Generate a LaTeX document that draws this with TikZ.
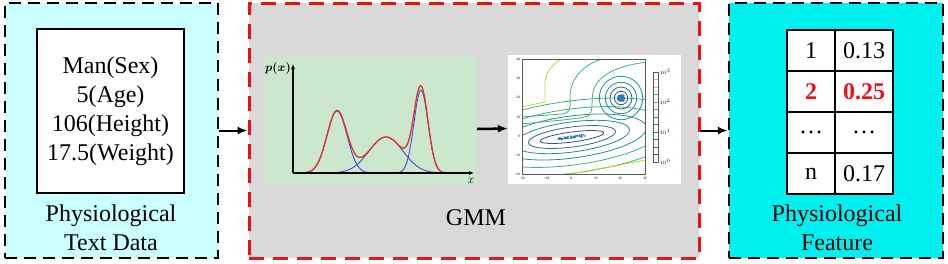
\documentclass[tikz,border=0pt]{standalone}
\usepackage{fontspec}
\usepackage{bm}
\setmainfont{Liberation Serif}
\usetikzlibrary{arrows.meta}
\definecolor{txtfill}{HTML}{CCFFFF}
\definecolor{gmmfill}{HTML}{D9D9D9}
\definecolor{gmmred}{HTML}{EE1111}
\definecolor{featfill}{HTML}{00F0F0}
\definecolor{pdffill}{HTML}{CBE7CC}
\definecolor{mixred}{HTML}{E03030}
\definecolor{compblue}{HTML}{3A3AE0}
\definecolor{vdark}{HTML}{3E4A89}
\definecolor{vblue}{HTML}{31688E}
\definecolor{vteal}{HTML}{21908C}
\definecolor{vgreen}{HTML}{3BB47A}
\definecolor{vlight}{HTML}{B5DE2B}
\definecolor{dotblue}{HTML}{1F77B4}
\definecolor{hibold}{HTML}{E8141A}

\begin{document}
\begin{tikzpicture}[x=1pt,y=-1pt,font=\fontsize{24}{29}\selectfont,
  panel/.style={draw,line width=2.5pt,dash pattern=on 12pt off 7pt,minimum width=213pt,minimum height=255pt,inner sep=0pt},
  flow/.style={line width=2pt,-{Latex[length=10pt,width=8pt]}},
  cell/.style={draw,line width=1.5pt,fill=white,minimum height=41pt,inner sep=0pt},
  cellnum/.style={},
  cellhot/.style={text=hibold,font=\fontsize{24}{29}\selectfont\bfseries},
  tiny/.style={font=\fontsize{3.5}{4}\selectfont,inner sep=0.5pt},
  axlbl/.style={font=\fontsize{12}{12}\selectfont,inner sep=0pt},
  contour/.style={line width=0.8pt}]
\useasboundingbox (0,0) rectangle (948,263);
\node[panel,fill=txtfill] (txtbox) at (111.5,130.5) {};
\node[panel,fill=gmmfill,draw=gmmred,line width=3pt,dash pattern=on 15pt off 9pt,minimum width=450pt] (gmmbox) at (474,130.5) {};
\node[panel,fill=featfill,minimum width=214pt] (featbox) at (836,130.5) {};
\node[draw,line width=2pt,fill=white,minimum width=147pt,minimum height=164pt,align=center] (txtcard) at (110.5,111) {Man(Sex)\\5(Age)\\106(Height)\\17.5(Weight)};
\node[align=center] (txtlbl) at (111,227.5) {Physiological\\Text Data};
\node (gmmlbl) at (476,218) {GMM};
\node[fill=pdffill,minimum width=213pt,minimum height=128pt,inner sep=0pt] (pdfimg) at (370.5,120) {};
\draw[compblue,line width=0.8pt,domain=9:79,samples=50,smooth] plot ({\x+293},{173-62*exp(-0.5*((\x-44)/10)^2)});
\draw[compblue,line width=0.8pt,domain=33:153,samples=60,smooth] plot ({\x+293},{173-36*exp(-0.5*((\x-93)/17)^2)});
\draw[compblue,line width=0.8pt,domain=103:153,samples=50,smooth] plot ({\x+293},{173-83*exp(-0.5*((\x-128)/7)^2)});
\draw[mixred,line width=1.3pt,domain=8:160,samples=150,smooth] plot ({\x+293},{173-62*exp(-0.5*((\x-44)/10)^2)-36*exp(-0.5*((\x-93)/17)^2)-83*exp(-0.5*((\x-128)/7)^2)});
\draw[line width=1.2pt,-{Latex[length=5pt,width=4pt]}] (293,173) -- (293,64);
\draw[line width=1.2pt,-{Latex[length=5pt,width=4pt]}] (293,173) -- (474,173);
\node[axlbl] (pxlbl) at (278,68) {$\bm{p(x)}$};
\node[axlbl] (xlbl) at (471,181) {$x$};
\node[fill=white,minimum width=173pt,minimum height=129pt,inner sep=0pt] (contimg) at (594.5,119.5) {};
\begin{scope}
\clip (522,59.5) rectangle (645,174.5);
\foreach \rx/\ry/\col in {32/5/vdark,44/10/vblue,58/15/vteal,75/21/vteal,95/28/vgreen,120/36/vgreen}
  \draw[\col,contour,rotate around={7.5:(572,137)}] (572,137) ellipse [x radius=\rx, y radius=\ry];
\foreach \r/\col in {3.3/vdark,6.7/vdark,11/vblue,15.7/vteal,21.7/vteal}
  \draw[\col,contour] (621,98) circle [radius=\r];
\draw[vlight,contour] (521,107) -- (545,102) -- (545,84) .. controls (545,72) and (553,63) .. (565,57);
\draw[vgreen,contour] (521,117) -- (562,114) .. controls (572,113) and (570,105) .. (570,95) .. controls (571,75) and (588,62) .. (606,58);
\draw[vgreen,contour] (521,124) .. controls (550,121) and (580,119) .. (588,116) .. controls (594,112) and (591,100) .. (593,92) .. controls (597,76) and (615,66) .. (647,62);
\draw[vlight,contour] (565,175) -- (646,160);
\pgfmathsetseed{7}
\foreach \k in {1,...,90}
  \fill[dotblue] ({621+3.4*rand},{98+3*rand}) circle [radius=0.6];
\foreach \k in {1,...,120} {
  \pgfmathsetmacro\u{rand}
  \fill[dotblue] ({572+14*\u+1.5*rand},{137-1.9*\u+1.2*rand}) circle [radius=0.6];
}
\end{scope}
\draw[gray!70!black,line width=0.4pt] (522,59.5) rectangle (645,174.5);
\foreach \t [count=\k from 0] in {−20,−10,0,10,20,30}
  \node[tiny,anchor=north] at ({522+24.6*\k},176) {\t};
\foreach \t [count=\k from 0] in {40,30,20,10,0,−10,−20}
  \node[tiny,anchor=east] at (520.5,{59.5+19.17*\k}) {\t};
\foreach \i/\col in {1/vlight,2/vlight,3/vgreen,4/vgreen,5/vgreen,6/vteal,7/vteal,8/vteal,9/vblue,10/vblue,11/vdark}
  \draw[\col,line width=0.5pt] (653,{72+7.5*\i}) -- (658,{72+7.5*\i});
\draw[gray!70!black,line width=0.4pt] (653,72) rectangle (658,162);
\foreach \e [count=\k from 0] in {3,2,1,0}
  \node[tiny,anchor=west] at (659,{72+30*\k}) {$10^{\e}$};
\foreach \a/\b/\st [count=\r] in {1/0.13/cellnum,2/0.25/cellhot,\ldots/\ldots/cellnum,n/0.17/cellnum} {
  \node[cell,\st,minimum width=48pt] (k\r) at (811,{50.5+41*(\r-1)}) {\a};
  \node[cell,\st,minimum width=58pt] (v\r) at (864,{50.5+41*(\r-1)}) {\b};
}
\node[align=center] (featlbl) at (837,227.5) {Physiological\\Feature};
\draw[flow] (txtbox) -- (gmmbox);
\draw[flow] (gmmbox) -- (featbox);
\draw[flow,line width=2.5pt] ([yshift=-9pt]pdfimg.east) -- ([yshift=-9pt]contimg.west);
\end{tikzpicture}
\end{document}
